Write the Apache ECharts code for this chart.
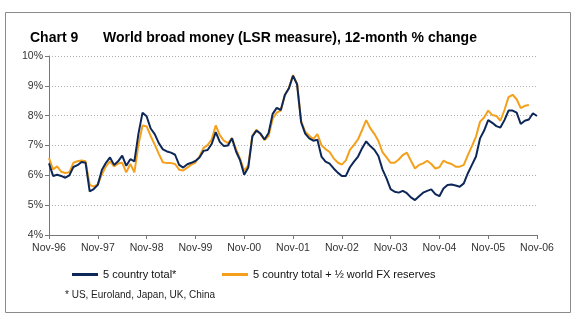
<!DOCTYPE html>
<html>
<head>
<meta charset="utf-8">
<script src="https://cdn.jsdelivr.net/npm/echarts@6/dist/echarts.min.js"></script>
<style>
  html, body { margin: 0; padding: 0; background: #fff; }
  #chart { width: 576px; height: 328px; }
</style>
</head>
<body>
<div id="chart"></div>
<script>
// Monthly observations, Nov-96 .. Nov-06 (121 months), 12-month % change
const tickLabels = ['Nov-96', 'Nov-97', 'Nov-98', 'Nov-99', 'Nov-00', 'Nov-01',
                    'Nov-02', 'Nov-03', 'Nov-04', 'Nov-05', 'Nov-06'];

const monthNames = ['Nov', 'Dec', 'Jan', 'Feb', 'Mar', 'Apr', 'May', 'Jun', 'Jul', 'Aug', 'Sep', 'Oct'];

const fiveCountryTotal = [
  6.40, 5.98, 6.02, 5.98, 5.92, 6.00, 6.28, 6.34, 6.45, 6.42, 5.46, 5.54,
  5.68, 6.18, 6.42, 6.60, 6.35, 6.47, 6.66, 6.32, 6.54, 6.47, 7.40, 8.10,
  7.98, 7.57, 7.38, 7.08, 6.87, 6.80, 6.76, 6.69, 6.35, 6.26, 6.37, 6.42,
  6.48, 6.60, 6.82, 6.85, 7.05, 7.45, 7.12, 6.98, 7.00, 7.24, 6.80, 6.50,
  6.02, 6.26, 7.30, 7.50, 7.40, 7.20, 7.42, 8.06, 8.26, 8.19, 8.69, 8.92,
  9.34, 9.05, 7.78, 7.40, 7.24, 7.16, 7.19, 6.63, 6.46, 6.39, 6.23, 6.09,
  5.98, 5.98, 6.27, 6.46, 6.63, 6.91, 7.14, 6.98, 6.86, 6.65, 6.20, 5.90,
  5.54, 5.45, 5.42, 5.48, 5.40, 5.26, 5.17, 5.30, 5.42, 5.48, 5.53, 5.37,
  5.30, 5.56, 5.68, 5.69, 5.66, 5.62, 5.73, 6.07, 6.35, 6.63, 7.24, 7.50,
  7.85, 7.76, 7.65, 7.60, 7.85, 8.17, 8.17, 8.10, 7.72, 7.83, 7.87, 8.08,
  7.99
];

const withHalfFxReserves = [
  6.58, 6.20, 6.30, 6.12, 6.08, 6.10, 6.42, 6.47, 6.50, 6.47, 5.68, 5.62,
  5.70, 6.03, 6.30, 6.47, 6.30, 6.40, 6.42, 6.10, 6.38, 6.10, 7.03, 7.67,
  7.64, 7.32, 7.03, 6.72, 6.44, 6.41, 6.41, 6.38, 6.19, 6.16, 6.26, 6.36,
  6.43, 6.63, 6.92, 7.01, 7.20, 7.67, 7.35, 7.16, 7.08, 7.25, 6.88, 6.55,
  6.16, 6.33, 7.33, 7.53, 7.38, 7.18, 7.32, 7.90, 8.10, 8.17, 8.69, 8.93,
  9.36, 9.08, 7.82, 7.46, 7.33, 7.22, 7.38, 7.01, 6.88, 6.78, 6.57, 6.43,
  6.36, 6.50, 6.85, 7.02, 7.21, 7.52, 7.85, 7.58, 7.39, 7.15, 6.78, 6.60,
  6.42, 6.42, 6.53, 6.68, 6.76, 6.49, 6.23, 6.35, 6.40, 6.49, 6.38, 6.23,
  6.27, 6.49, 6.42, 6.38, 6.29, 6.29, 6.35, 6.68, 6.98, 7.30, 7.80, 7.94,
  8.17, 8.02, 7.99, 7.83, 8.19, 8.62, 8.70, 8.55, 8.25, 8.33, 8.36, null,
  null
];

const seriesNames = ['5 country total*', '5 country total + \u00BD world FX reserves'];
const footnote = '* US, Euroland, Japan, UK, China';

// Month category labels: Nov-96, Dec-96, Jan-97, ...
const categories = fiveCountryTotal.map((_, i) => {
  const yr = (96 + Math.floor((i + 10) / 12)) % 100;
  return monthNames[i % 12] + '-' + String(yr).padStart(2, '0');
});

const NAVY = '#0d2858';
const ORANGE = '#f5a01c';
const FONT = '"Liberation Sans", Arial, sans-serif';

const chart = echarts.init(document.getElementById('chart'), null, { renderer: 'canvas' });

chart.setOption({
  animation: false,
  backgroundColor: '#fff',
  textStyle: { fontFamily: FONT },
  title: [
    { text: 'Chart 9', left: 25, top: 26,
      textStyle: { fontFamily: FONT, fontSize: 14, fontWeight: 'bold', color: '#000' } },
    { text: 'World broad money (LSR measure), 12-month % change', left: 98, top: 26,
      textStyle: { fontFamily: FONT, fontSize: 14, fontWeight: 'bold', color: '#000' } },
    { text: footnote, left: 60, top: 285,
      textStyle: { fontFamily: FONT, fontSize: 10, fontWeight: 'normal', color: '#222' } }
  ],
  legend: [
    { data: [seriesNames[0]], left: 67, top: 264, icon: 'rect', itemWidth: 26, itemHeight: 3,
      itemGap: 0, textStyle: { fontFamily: FONT, fontSize: 11, color: '#111' } },
    { data: [seriesNames[1]], left: 217, top: 264, icon: 'rect', itemWidth: 26, itemHeight: 3,
      itemGap: 0, textStyle: { fontFamily: FONT, fontSize: 11, color: '#111' } }
  ],
  grid: { left: 49, right: 39, top: 56, bottom: 93, containLabel: false },
  xAxis: {
    type: 'category',
    data: categories,
    boundaryGap: false,
    axisLine: { lineStyle: { color: '#777', width: 1 } },
    axisTick: { interval: 11, length: 4, lineStyle: { color: '#777' } },
    axisLabel: {
      interval: 11, color: '#333', fontSize: 10.5, fontFamily: FONT, margin: 8,
      formatter: (v, i) => tickLabels[Math.round(i / 12)]
    },
    splitLine: { show: false }
  },
  yAxis: {
    type: 'value',
    min: 4, max: 10, interval: 1,
    axisLine: { show: true, lineStyle: { color: '#777', width: 1 } },
    axisTick: { show: true, length: 4, lineStyle: { color: '#777' } },
    axisLabel: { color: '#333', fontSize: 10.5, fontFamily: FONT, margin: 6, formatter: '{value}%' },
    splitLine: { show: true, lineStyle: { color: '#b0b0b0', type: [1, 2], width: 1 } }
  },
  series: [
    { name: seriesNames[0], type: 'line', data: fiveCountryTotal, showSymbol: false,
      lineStyle: { color: NAVY, width: 2 }, itemStyle: { color: NAVY }, z: 3 },
    { name: seriesNames[1], type: 'line', data: withHalfFxReserves, showSymbol: false,
      connectNulls: false,
      lineStyle: { color: ORANGE, width: 2 }, itemStyle: { color: ORANGE }, z: 2 }
  ],
  graphic: [
    { type: 'rect', shape: { x: 5.5, y: 12.5, width: 565, height: 300 }, silent: true,
      style: { fill: 'none', stroke: '#8a8a8a', lineWidth: 1 }, z: -1 }
  ]
});
</script>
</body>
</html>
